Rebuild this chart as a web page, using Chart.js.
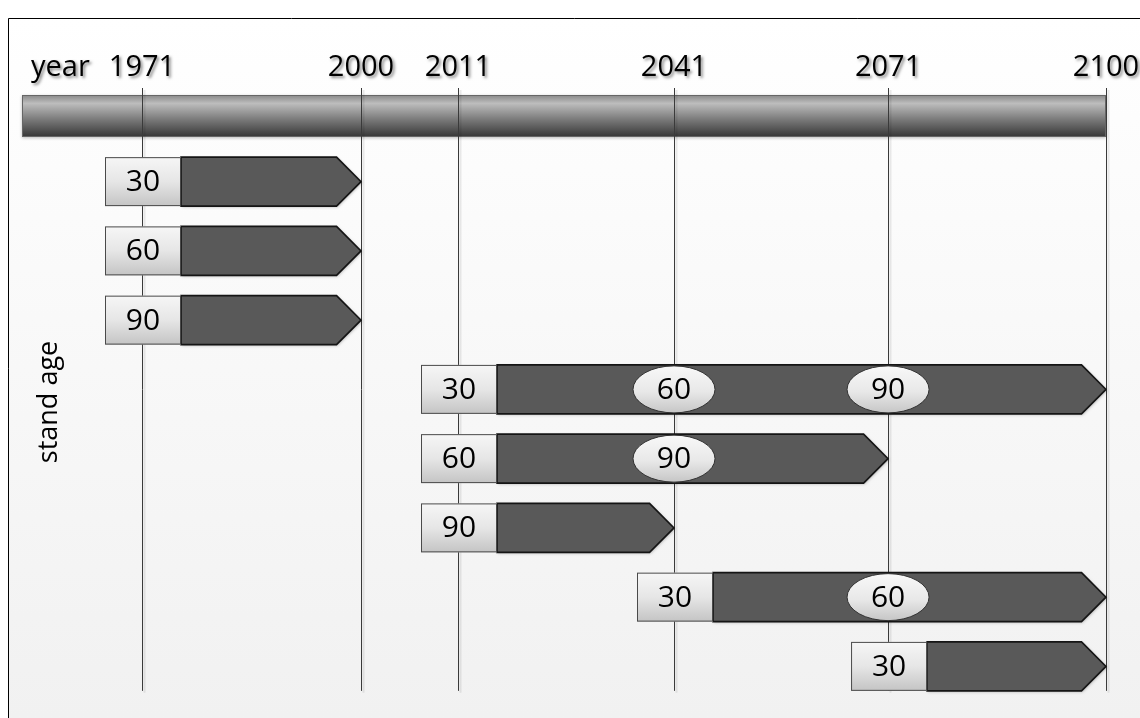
<!DOCTYPE html>
<html>
<head>
<meta charset="utf-8">
<script src="https://cdn.jsdelivr.net/npm/chart.js@4/dist/chart.umd.min.js"></script>
<style>
  html, body { margin: 0; padding: 0; background: #fff; }
  canvas { display: block; }
</style>
</head>
<body>
<canvas id="timeline" width="1140" height="718"></canvas>
<script>
// rows of the diagram, top to bottom
const rows = ['r1', 'r2', 'r3', 'r4', 'r5', 'r6', 'r7', 'r8'];
const startYear = [1971, 1971, 1971, 2011, 2011, 2011, 2041, 2071];
const endYear = [2000, 2000, 2000, 2100, 2071, 2041, 2100, 2100];
const startAge = [30, 60, 90, 30, 60, 90, 30, 30];

// stand age reached along the way (ellipses)
const markRow = ['r4', 'r4', 'r5', 'r7'];
const markYear = [2041, 2071, 2041, 2071];
const markAge = [60, 90, 90, 60];

const yearTicks = [1971, 2000, 2011, 2041, 2071, 2100];
const FONT = '"Open Sans", Lato, sans-serif';

// the drawing is not to scale: 2000-2011 is squeezed
class PiecewiseScale extends Chart.LinearScale {
    static id = 'piecewise';
    static defaults = Chart.LinearScale.defaults;

    getPixelForValue(value) {
        if (value === null || value === undefined || isNaN(value)) return NaN;
        const t = this.options.anchors;
        const w = this.options.weights;
        const total = w.reduce((a, b) => a + b, 0);
        let i = 0;
        while (i < t.length - 2 && value > t[i + 1]) i++;
        let cum = 0;
        for (let k = 0; k < i; k++) cum += w[k];
        const frac = (cum + w[i] * (value - t[i]) / (t[i + 1] - t[i])) / total;
        return this.left + frac * (this.right - this.left);
    }
}
Chart.register(PiecewiseScale);

const backdrop = {
    id: 'backdrop',
    beforeDraw(chart) {
        const ctx = chart.ctx;
        const x = chart.scales.x;
        ctx.save();
        const bg = ctx.createLinearGradient(0, 18, 0, 718);
        bg.addColorStop(0, '#ffffff');
        bg.addColorStop(1, '#f1f1f1');
        ctx.fillStyle = bg;
        ctx.fillRect(8, 18, 1132, 700);
        ctx.strokeStyle = '#000';
        ctx.lineWidth = 1;
        ctx.beginPath();
        ctx.moveTo(8.5, 718);
        ctx.lineTo(8.5, 18.5);
        ctx.lineTo(1140, 18.5);
        ctx.stroke();

        // grey time band
        const bandL = 22, bandR = x.getPixelForValue(2100), bandT = 95, bandB = 137;
        const g = ctx.createLinearGradient(0, bandT, 0, bandB);
        g.addColorStop(0, '#888888');
        g.addColorStop(0.2, '#bdbdbd');
        g.addColorStop(0.6, '#777777');
        g.addColorStop(1, '#363636');
        ctx.shadowColor = 'rgba(0,0,0,0.25)';
        ctx.shadowBlur = 3;
        ctx.shadowOffsetY = 1;
        ctx.fillStyle = g;
        ctx.fillRect(bandL, bandT, bandR - bandL, bandB - bandT);
        ctx.shadowColor = 'transparent';
        ctx.strokeStyle = '#666';
        ctx.strokeRect(bandL + 0.5, bandT + 0.5, bandR - bandL - 1, bandB - bandT - 1);

        // year lines
        const lastBar = chart.getDatasetMeta(0).data[rows.length - 1];
        const lineBottom = lastBar.y + lastBar.height / 2;
        yearTicks.forEach(yr => {
            const px = Math.round(x.getPixelForValue(yr)) + 0.5;
            ctx.strokeStyle = 'rgba(0,0,0,0.08)';
            ctx.lineWidth = 2;
            ctx.beginPath();
            ctx.moveTo(px + 2, 90);
            ctx.lineTo(px + 2, lineBottom + 2);
            ctx.stroke();
            ctx.strokeStyle = '#3a3a3a';
            ctx.lineWidth = 1;
            ctx.beginPath();
            ctx.moveTo(px, 88);
            ctx.lineTo(px, lineBottom);
            ctx.stroke();
        });

        // year labels
        ctx.font = '29px ' + FONT;
        ctx.fillStyle = '#000';
        ctx.textBaseline = 'alphabetic';
        ctx.shadowColor = 'rgba(0,0,0,0.45)';
        ctx.shadowBlur = 3;
        ctx.shadowOffsetX = 2;
        ctx.shadowOffsetY = 2;
        ctx.textAlign = 'center';
        yearTicks.forEach(yr => {
            ctx.fillText(String(yr), x.getPixelForValue(yr), 76);
        });
        ctx.textAlign = 'left';
        ctx.fillText('year', 31, 76);
        ctx.shadowColor = 'transparent';

        // side label
        ctx.translate(57, 402);
        ctx.rotate(-Math.PI / 2);
        ctx.textAlign = 'center';
        ctx.fillStyle = '#000';
        ctx.font = '27px ' + FONT;
        ctx.fillText('stand age', 0, 0);
        ctx.restore();
    }
};

const shapes = {
    id: 'shapes',
    afterDatasetsDraw(chart) {
        const ctx = chart.ctx;
        const boxLeft = 37, boxRight = 39;
        ctx.save();
        chart.getDatasetMeta(0).data.forEach((bar, i) => {
            const h = bar.height;
            const top = bar.y - h / 2, bot = bar.y + h / 2;
            const s = bar.base, tip = bar.x;
            const bodyL = s + boxRight, head = h / 2;

            // arrow body
            ctx.shadowColor = 'rgba(0,0,0,0.3)';
            ctx.shadowBlur = 3;
            ctx.shadowOffsetX = 1;
            ctx.shadowOffsetY = 1;
            ctx.beginPath();
            ctx.moveTo(bodyL, top);
            ctx.lineTo(tip - head, top);
            ctx.lineTo(tip, bar.y);
            ctx.lineTo(tip - head, bot);
            ctx.lineTo(bodyL, bot);
            ctx.closePath();
            ctx.fillStyle = '#595959';
            ctx.fill();
            ctx.shadowColor = 'transparent';
            ctx.strokeStyle = '#151515';
            ctx.lineWidth = 1.6;
            ctx.stroke();

            // starting age box
            const g = ctx.createLinearGradient(0, top, 0, bot);
            g.addColorStop(0, '#f6f6f6');
            g.addColorStop(0.5, '#e6e6e6');
            g.addColorStop(1, '#c4c4c4');
            ctx.fillStyle = g;
            ctx.fillRect(s - boxLeft, top, boxLeft + boxRight, h);
            ctx.strokeStyle = '#4a4a4a';
            ctx.lineWidth = 1;
            ctx.strokeRect(s - boxLeft + 0.5, top + 0.5, boxLeft + boxRight - 1, h - 1);
            ctx.fillStyle = '#000';
            ctx.font = '30px ' + FONT;
            ctx.textAlign = 'center';
            ctx.textBaseline = 'middle';
            ctx.fillText(String(startAge[i]), s + 1, bar.y + 1);
        });

        chart.getDatasetMeta(1).data.forEach((pt, i) => {
            const rx = 41, ry = 23.5;
            const g = ctx.createLinearGradient(0, pt.y - ry, 0, pt.y + ry);
            g.addColorStop(0, '#f8f8f8');
            g.addColorStop(0.55, '#e8e8e8');
            g.addColorStop(1, '#c6c6c6');
            ctx.beginPath();
            ctx.ellipse(pt.x, pt.y, rx, ry, 0, 0, Math.PI * 2);
            ctx.fillStyle = g;
            ctx.fill();
            ctx.strokeStyle = '#333';
            ctx.lineWidth = 1;
            ctx.stroke();
            ctx.fillStyle = '#000';
            ctx.font = '30px ' + FONT;
            ctx.textAlign = 'center';
            ctx.textBaseline = 'middle';
            ctx.fillText(String(markAge[i]), pt.x, pt.y + 1);
        });
        ctx.restore();
    }
};

new Chart(document.getElementById('timeline'), {
    type: 'bar',
    data: {
        labels: rows,
        datasets: [{
            label: 'simulation period',
            indexAxis: 'y',
            data: startYear.map((s, i) => [s, endYear[i]]),
            backgroundColor: 'rgba(0,0,0,0)',
            borderWidth: 0,
            barPercentage: 0.707,
            categoryPercentage: 1,
            clip: false
        }, {
            type: 'scatter',
            label: 'stand age reached',
            data: markYear.map((yr, i) => ({ x: yr, y: markRow[i] })),
            pointRadius: 0,
            clip: false
        }]
    },
    options: {
        responsive: false,
        animation: false,
        events: [],
        layout: { padding: { top: 147, bottom: 17, left: 142, right: 34 } },
        plugins: { legend: { display: false }, tooltip: { enabled: false } },
        scales: {
            x: {
                type: 'piecewise',
                min: 1971,
                max: 2100,
                anchors: yearTicks,
                weights: [1.014, 0.449, 1, 0.991, 1.009],
                display: false
            },
            y: {
                type: 'category',
                labels: rows,
                display: false
            }
        }
    },
    plugins: [backdrop, shapes]
});
</script>
</body>
</html>
